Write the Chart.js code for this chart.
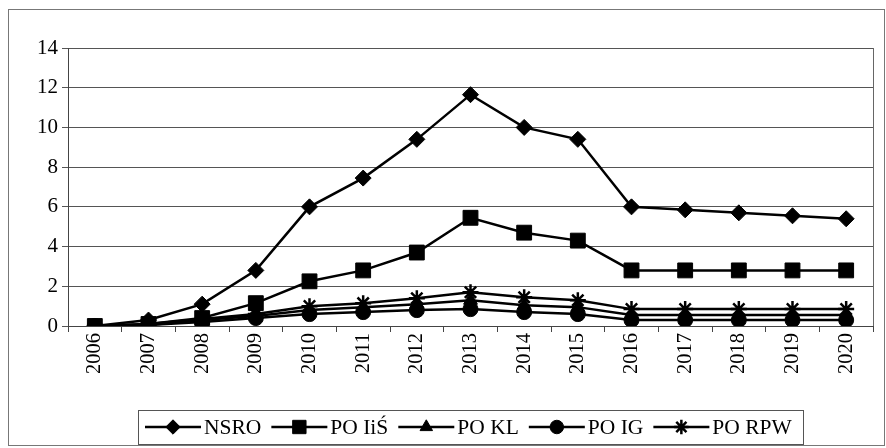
<!DOCTYPE html>
<html>
<head>
<meta charset="utf-8">
<script src="https://cdn.jsdelivr.net/npm/chart.js@4"></script>
<style>
  html, body { margin: 0; padding: 0; background: #fff; }
  #wrap { width: 886px; height: 448px; }
</style>
</head>
<body>
<div id="wrap"><canvas id="myChart" width="886" height="448"></canvas></div>
<script>
const years = ['2006','2007','2008','2009','2010','2011','2012','2013','2014','2015','2016','2017','2018','2019','2020'];
const nsro  = [0, 0.3, 1.1, 2.8, 6.0, 7.45, 9.4, 11.65, 10.0, 9.4, 6.0, 5.85, 5.7, 5.55, 5.4];
const poIiS = [0, 0.1, 0.4, 1.15, 2.25, 2.8, 3.7, 5.45, 4.7, 4.3, 2.8, 2.8, 2.8, 2.8, 2.8];
const poKL  = [0, 0.05, 0.3, 0.5, 0.8, 0.95, 1.1, 1.3, 1.05, 0.95, 0.55, 0.55, 0.55, 0.55, 0.55];
const poIG  = [0, 0.05, 0.2, 0.4, 0.6, 0.7, 0.8, 0.85, 0.7, 0.6, 0.3, 0.3, 0.3, 0.3, 0.3];
const poRPW = [0, 0.1, 0.35, 0.6, 1.0, 1.15, 1.4, 1.7, 1.45, 1.3, 0.85, 0.85, 0.85, 0.85, 0.85];
const yTicks = [0, 2, 4, 6, 8, 10, 12, 14];

const serif = '"Liberation Serif", "Times New Roman", serif';

function series(label, values, style, radius) {
  return {
    label: label,
    data: values,
    borderColor: '#000',
    backgroundColor: '#000',
    borderWidth: 2.5,
    pointStyle: style,
    pointRadius: radius,
    pointBorderWidth: style === 'star' ? 2.5 : 1,
    pointBackgroundColor: '#000',
    pointBorderColor: '#000',
    tension: 0,
    fill: false
  };
}

const datasets = [
  series('NSRO', nsro, 'rectRot', 8),
  series('PO IiŚ', poIiS, 'rect', 10.5),
  series('PO KL', poKL, 'triangle', 8),
  series('PO IG', poIG, 'circle', 7.5),
  series('PO RPW', poRPW, 'star', 8)
];

// frame, plot border and custom legend with lines through markers
const extras = {
  id: 'extras',
  beforeDraw(chart) {
    const c = chart.ctx;
    c.save();
    c.strokeStyle = '#777';
    c.lineWidth = 1;
    c.strokeRect(8.5, 9.5, 876, 436);
    c.restore();
  },
  afterDraw(chart) {
    const c = chart.ctx;
    const a = chart.chartArea;
    c.save();
    c.strokeStyle = '#666';
    c.lineWidth = 1;
    c.beginPath();
    c.moveTo(Math.round(a.right) + 0.5, a.top);
    c.lineTo(Math.round(a.right) + 0.5, a.bottom);
    c.stroke();

    // legend
    c.font = '21.5px ' + serif;
    c.textBaseline = 'middle';
    const lineLen = 56, gapText = 3, gapItem = 10;
    const widths = datasets.map(d => c.measureText(d.label).width);
    const boxL = 138, boxR = 803, boxT = 410, boxB = 444;
    c.strokeStyle = '#555';
    c.lineWidth = 1;
    c.strokeRect(boxL + 0.5, boxT + 0.5, boxR - boxL, boxB - boxT);
    let x = 145;
    const y = 427;
    datasets.forEach((d, i) => {
      c.strokeStyle = '#000';
      c.lineWidth = 2.5;
      c.beginPath();
      c.moveTo(x, y);
      c.lineTo(x + lineLen, y);
      c.stroke();
      c.fillStyle = '#000';
      c.lineWidth = d.pointBorderWidth;
      Chart.helpers.drawPoint(c, { pointStyle: d.pointStyle, rotation: 0, radius: d.pointRadius * 0.9, borderWidth: d.pointBorderWidth }, x + lineLen / 2, y);
      c.fillStyle = '#000';
      c.fillText(d.label, x + lineLen + gapText, y + 1);
      x += lineLen + gapText + widths[i] + gapItem;
    });
    c.restore();
  }
};

const config = {
  type: 'line',
  data: { labels: years, datasets },
  options: {
    responsive: false,
    animation: false,
    layout: { padding: { left: 8, right: 13, top: 48, bottom: 0 } },
    plugins: { legend: { display: false }, tooltip: { enabled: false } },
    scales: {
      x: {
        offset: true,
        grid: { display: true, drawOnChartArea: false, drawTicks: true, tickLength: 6, offset: true, color: '#444' },
        border: { color: '#444', width: 1 },
        ticks: {
          color: '#000',
          font: { family: serif, size: 20.5 },
          minRotation: 90,
          maxRotation: 90,
          padding: 1,
          autoSkip: false
        },
        afterFit(scale) { scale.height = 122; }
      },
      y: {
        min: 0,
        max: 14,
        afterBuildTicks(scale) { scale.ticks = yTicks.map(v => ({ value: v })); },
        grid: { color: '#555', lineWidth: 1, tickLength: 6, drawTicks: true },
        border: { color: '#444', width: 1 },
        ticks: { color: '#000', font: { family: serif, size: 21 }, padding: 4 },
        afterFit(scale) { scale.width = 60; }
      }
    }
  },
  plugins: [extras]
};

var myChart = new Chart(document.getElementById('myChart'), config);
</script>
</body>
</html>
